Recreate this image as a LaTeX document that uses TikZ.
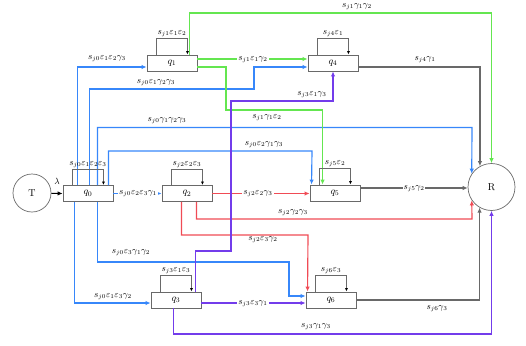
\documentclass[tikz,border=0pt]{standalone}
\usetikzlibrary{arrows.meta,calc}
\definecolor{cb}{RGB}{55,135,250}
\definecolor{cg}{RGB}{100,230,80}
\definecolor{cr}{RGB}{240,75,85}
\definecolor{cp}{RGB}{115,60,235}
\definecolor{cgray}{RGB}{105,105,105}
\begin{document}
\begin{tikzpicture}[x=1pt,y=-1pt,
  box/.style={draw=cgray, fill=white, minimum width=50pt, minimum height=16pt, inner sep=0pt, line width=0.9pt},
  circ/.style={circle, draw=cgray, fill=white, inner sep=0pt, line width=0.7pt},
  conn/.style={line width=1.15pt, -{Latex[length=5pt,width=4.5pt]}},
  bl/.style={conn, draw=cb},
  gr/.style={conn, draw=cg},
  rd/.style={conn, draw=cr},
  pu/.style={conn, draw=cp},
  gy/.style={conn, draw=cgray},
  loopc/.style={draw=cgray, line width=0.9pt, -{Latex[length=3.5pt,width=3pt,color=black]}},
  lab/.style={font=\small, inner sep=1pt},
  labw/.style={lab, fill=white}
]
\useasboundingbox (0,0) rectangle (526,345);

% nodes
\node[circ, minimum size=38pt] (T) at (32,193) {T};
\node[circ, minimum size=47pt] (R) at (491.5,187) {R};
\node[box] (q0) at (88,193.5) {$q_0$};
\node[box] (q1) at (172,63) {$q_1$};
\node[box] (q2) at (187,193.5) {$q_2$};
\node[box] (q3) at (176,300) {$q_3$};
\node[box] (q4) at (333,63) {$q_4$};
\node[box] (q5) at (335,193) {$q_5$};
\node[box] (q6) at (331,300) {$q_6$};

% T -> q0
\draw[conn, line width=0.9pt, draw=black] (T) -- (q0.west);
\node[lab] (lam) at (57,181) {$\lambda$};

% blue: from q0
\draw[bl] ([xshift=15pt]q0.north west) |- ([yshift=-4pt]q1.west);
\node[lab] (l01) at (107,59) {$s_{j0}\varepsilon_1\varepsilon_2\gamma_3$};

\draw[bl] ([xshift=27pt]q0.north west) |- (254,89) |- ([yshift=-4pt]q4.west);
\node[lab] (l04) at (156,83) {$s_{j0}\varepsilon_1\gamma_2\gamma_3$};

\draw[bl] ([xshift=35pt]q0.north west) |- (472,127.5) -- (R.146);
\node[lab] (l0R) at (167,121) {$s_{j0}\gamma_1\gamma_2\gamma_3$};

\draw[bl] ([xshift=46pt]q0.north west) |- (312,151) -- ([xshift=2pt]q5.north west);
\node[lab] (l05) at (264,145) {$s_{j0}\varepsilon_2\gamma_1\gamma_3$};

\draw[bl] (q0.east) -- (q2.west);
\node[labw] (l02) at (138,193.5) {$s_{j0}\varepsilon_2\varepsilon_3\gamma_1$};

\draw[bl] ([xshift=35pt]q0.south west) |- (289,262) |- ([yshift=4pt]q6.west);
\node[lab] (l06) at (131,253) {$s_{j0}\varepsilon_3\gamma_1\gamma_2$};

\draw[bl] ([xshift=12pt]q0.south west) |- ([yshift=-3pt]q3.west);
\node[lab] (l03) at (113,297) {$s_{j0}\varepsilon_1\varepsilon_3\gamma_2$};

% green: from q1
\draw[gr] ([yshift=4pt]q1.east) -- ([yshift=4pt]q4.west);
\node[labw] (l14) at (253,60) {$s_{j1}\varepsilon_1\gamma_2$};

\draw[gr] ([xshift=-8pt]q1.north east) |- (491.5,13) -- (R.north);
\node[lab] (l1R) at (357,7) {$s_{j1}\gamma_1\gamma_2$};

\draw[gr] ([yshift=-4pt]q1.east) -| (226,110) -| ([xshift=13pt]q5.north west);
\node[lab] (l15) at (267,118) {$s_{j1}\gamma_1\varepsilon_2$};

% red: from q2
\draw[rd] (q2.east) -- (q2.east -| q5.west);
\node[labw] (l25) at (258,193.5) {$s_{j2}\varepsilon_2\gamma_3$};

\draw[rd] ([xshift=35pt]q2.south west) |- (472,219) -- (R.214);
\node[lab] (l2R) at (293,213) {$s_{j2}\gamma_2\gamma_3$};

\draw[rd] ([xshift=20pt]q2.south west) |- (308,235) -- ([xshift=2pt]q6.north west);
\node[lab] (l26) at (263,240) {$s_{j2}\varepsilon_3\gamma_2$};

% purple: from q3
\draw[pu] ([xshift=-6pt]q3.north east) |- (231,251) |- (333,101) -- (q4.south);
\node[lab] (l34) at (312,95) {$s_{j3}\varepsilon_1\gamma_3$};

\draw[pu] ([yshift=-3pt]q3.east) -- ([yshift=-3pt]q6.west);
\node[labw] (l36) at (253,304) {$s_{j3}\varepsilon_3\gamma_1$};

\draw[pu] ([xshift=23pt]q3.south west) |- (491.5,334) -- (R.south);
\node[lab] (l3R) at (316,327) {$s_{j3}\gamma_1\gamma_3$};

% gray: to R
\draw[gy] ([yshift=-4pt]q4.east) -| (R.119.3);
\node[lab] (l4R) at (425,60) {$s_{j4}\gamma_1$};

\draw[gy] ([yshift=5pt]q5.east) -- ([yshift=5pt]q5.east -| R.west);
\node[labw] (l5R) at (414,189) {$s_{j5}\gamma_2$};

\draw[gy] (q6.east) -| (R.240.7);
\node[lab] (l6R) at (437,309) {$s_{j6}\gamma_3$};

% self loops
\draw[loopc] ([xshift=10pt]q0.north west) -- ++(0,-16) -| node[lab, pos=0.25, above, name=s0]{$s_{j0}\varepsilon_1\varepsilon_2\varepsilon_3$} ([xshift=-10pt]q0.north east);
\draw[loopc] ([xshift=10pt]q1.north west) -- ++(0,-16) -| node[lab, pos=0.25, above, name=s1]{$s_{j1}\varepsilon_1\varepsilon_2$} ([xshift=-10pt]q1.north east);
\draw[loopc] ([xshift=10pt]q2.north west) -- ++(0,-16) -| node[lab, pos=0.25, above, name=s2]{$s_{j2}\varepsilon_2\varepsilon_3$} ([xshift=-10pt]q2.north east);
\draw[loopc] ([xshift=10pt]q3.north west) -- ++(0,-16) -| node[lab, pos=0.25, above, name=s3]{$s_{j3}\varepsilon_1\varepsilon_3$} ([xshift=-10pt]q3.north east);
\draw[loopc] ([xshift=10pt]q4.north west) -- ++(0,-16) -| node[lab, pos=0.25, above, name=s4]{$s_{j4}\varepsilon_1$} ([xshift=-10pt]q4.north east);
\draw[loopc] ([xshift=10pt]q5.north west) -- ++(0,-16) -| node[lab, pos=0.25, above, name=s5]{$s_{j5}\varepsilon_2$} ([xshift=-10pt]q5.north east);
\draw[loopc] ([xshift=10pt]q6.north west) -- ++(0,-16) -| node[lab, pos=0.25, above, name=s6]{$s_{j6}\varepsilon_3$} ([xshift=-10pt]q6.north east);
\end{tikzpicture}
\end{document}
